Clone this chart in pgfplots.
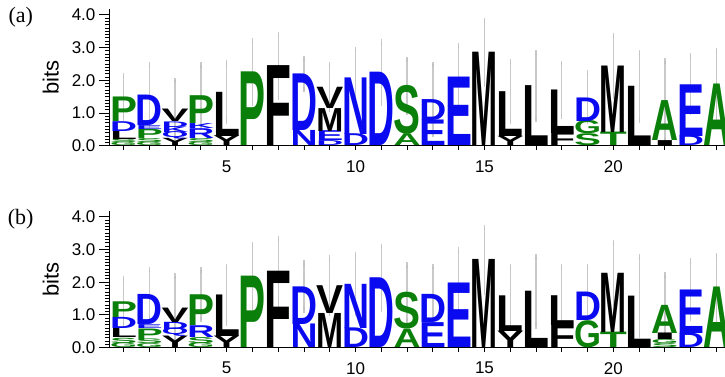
\documentclass[border=0pt]{standalone}
\usepackage{pgfplots}
\pgfplotsset{compat=1.18}
\usepackage{pgfplotstable}
\usepackage{graphicx}
\usepackage{fontspec}
\setmainfont{Liberation Sans}
\newfontfamily\serif{Liberation Serif}
\definecolor{lgreen}{RGB}{10,128,10}
\definecolor{lblue}{RGB}{10,10,240}
\definecolor{lblack}{RGB}{0,0,0}
\newcommand{\bitunit}{32.75}
\newcommand{\logoletter}[3]{\pgfmathsetmacro\hh{#1*\bitunit}\pgfmathtruncatemacro\cc{#3}%
  \ifcase\cc\color{lblack}\or\color{lblue}\or\color{lgreen}\fi
  \resizebox{27pt}{\hh pt}{\bfseries #2}}

% panel (a): x, base, height, letter, colour (0 black, 1 blue, 2 green)
\pgfplotstableread{
x y h L C
1 0 0.10 G 2
1 0.10 0.10 S 2
1 0.20 0.25 L 0
1 0.45 0.30 D 1
1 0.75 0.75 P 2
2 0 0.10 G 2
2 0.10 0.12 S 2
2 0.22 0.28 P 2
2 0.50 0.12 E 1
2 0.62 0.93 D 1
3 0 0.22 Y 0
3 0.22 0.18 Q 1
3 0.40 0.17 K 1
3 0.57 0.17 D 1
3 0.74 0.38 V 0
4 0 0.10 G 2
4 0.10 0.12 S 2
4 0.22 0.30 R 1
4 0.52 0.15 K 1
4 0.67 0.85 P 2
5 0 0.30 Y 0
5 0.30 1.35 L 0
6 0 2.25 P 2
7 0 2.44 F 0
8 0 0.46 N 1
8 0.46 1.73 D 1
9 0 0.15 D 1
9 0.15 0.30 E 1
9 0.45 0.70 M 0
9 1.15 0.65 V 0
10 0 0.36 D 1
10 0.36 1.73 N 1
11 0 2.24 D 1
12 0 0.36 A 2
12 0.36 1.47 S 2
13 0 0.78 E 1
13 0.78 0.64 D 1
14 0 2.09 E 1
15 0 2.85 M 0
16 0 0.28 Y 0
16 0.28 1.37 L 0
17 0 1.83 L 0
18 0 0.38 F 0
18 0.38 1.33 L 0
19 0 0.36 S 2
19 0.36 0.40 G 2
19 0.76 0.72 D 1
20 0 0.41 T 2
20 0.41 2.03 M 0
21 0 1.81 L 0
22 0 0.15 I 0
22 0.15 1.22 A 2
23 0 0.30 D 1
23 0.30 1.58 E 1
24 0 1.88 A 2
}\logoa

% panel (a): x, stack top, error bar top
\pgfplotstableread{
x top etop
1 1.50 2.15
2 1.55 2.47
3 1.12 2.00
4 1.52 2.47
5 1.65 2.54
6 2.25 3.20
7 2.44 3.40
8 2.19 2.66
9 1.80 2.49
10 2.09 2.95
11 2.24 3.17
12 1.83 2.64
13 1.42 2.49
14 2.09 3.07
15 2.85 3.81
16 1.65 2.56
17 1.83 2.85
18 1.71 2.52
19 1.48 2.22
20 2.44 3.37
21 1.81 2.85
22 1.37 2.59
23 1.88 2.74
24 1.88 2.90
}\erra

% panel (b)
\pgfplotstableread{
x y h L C
1 0 0.14 G 2
1 0.14 0.16 S 2
1 0.30 0.28 L 0
1 0.58 0.34 D 1
1 0.92 0.48 P 2
2 0 0.12 G 2
2 0.12 0.14 S 2
2 0.26 0.32 P 2
2 0.58 0.12 E 1
2 0.70 0.92 D 1
3 0 0.35 Y 0
3 0.35 0.20 Q 1
3 0.55 0.22 D 1
3 0.77 0.44 V 0
4 0 0.14 G 2
4 0.14 0.18 S 2
4 0.32 0.36 R 1
4 0.68 0.94 P 2
5 0 0.35 Y 0
5 0.35 1.27 L 0
6 0 2.18 P 2
7 0 2.33 F 0
8 0 0.72 N 1
8 0.72 1.15 D 1
9 0 1.04 M 0
9 1.04 0.85 V 0
10 0 0.60 D 1
10 0.60 1.35 N 1
11 0 2.13 D 1
12 0 0.56 A 2
12 0.56 1.11 S 2
13 0 0.76 E 1
13 0.76 0.86 D 1
14 0 1.97 E 1
15 0 2.69 M 0
16 0 0.50 Y 0
16 0.50 1.09 L 0
17 0 1.72 L 0
18 0 0.68 F 0
18 0.68 0.91 L 0
19 0 0.82 G 2
19 0.82 0.87 D 1
20 0 0.47 T 2
20 0.47 1.81 M 0
21 0 1.57 L 0
22 0 0.12 S 2
22 0.12 0.12 G 2
22 0.24 0.20 I 0
22 0.44 0.86 A 2
23 0 0.44 D 1
23 0.44 1.33 E 1
24 0 1.85 A 2
}\logob

\pgfplotstableread{
x top etop
1 1.40 2.10
2 1.62 2.38
3 1.21 2.20
4 1.62 2.38
5 1.62 2.48
6 2.18 3.15
7 2.33 3.32
8 1.87 2.59
9 1.89 2.74
10 1.95 2.84
11 2.13 3.09
12 1.67 2.53
13 1.62 2.48
14 1.97 2.99
15 2.69 3.67
16 1.59 2.46
17 1.72 2.77
18 1.59 2.46
19 1.69 2.46
20 2.28 3.20
21 1.57 2.77
22 1.30 2.23
23 1.77 2.65
24 1.85 2.82
}\errb

\pgfplotsset{
  logo/.style={
    scale only axis, width=615.6pt, height=136.6pt,
    xmin=0.47, xmax=24.33, ymin=0, ymax=4.17,
    axis x line=bottom, axis y line=left,
    axis line style={-, line width=1.1pt},
    xtick={5,10,15,20}, xticklabels={5,10,15,20}, minor xtick={1,...,24},
    ytick={0,1,2,3,4}, yticklabels={0.0,1.0,2.0,3.0,4.0},
    minor y tick num=9,
    tick align=outside, major tick length=11pt, minor tick length=5pt,
    tick style={black, line width=1pt},
    xtick style={/pgfplots/major tick length=4pt, /pgfplots/minor tick length=4pt},
    tick label style={font=\fontsize{17}{17}\selectfont},
    ylabel={bits},
    every axis y label/.style={at={(axis description cs:-0.096,0.5)}, rotate=90, anchor=center, font=\fontsize{22}{22}\selectfont},
    clip=false,
  },
  letters/.style={draw=none, mark=none,
    point meta=explicit symbolic,
    visualization depends on={\thisrow{h}\as\lH},
    visualization depends on={\thisrow{C}\as\lC},
    nodes near coords={\logoletter{\lH}{\pgfplotspointmeta}{\lC}},
    every node near coord/.append style={anchor=south, inner sep=0pt, outer sep=0pt}},
  errs/.style={draw=none, mark=none,
    error bars/.cd, y dir=both, y explicit,
    error bar style={black!25, line width=1.3pt, opacity=0.85},
    error mark options={black!25, mark size=2.8pt, line width=1.3pt}},
}

\begin{document}
\begin{tikzpicture}
\begin{axis}[logo, name=top, at={(0pt,0pt)}, anchor=south west]
\addplot[letters] table[x=x, y=y, meta=L] {\logoa};
\addplot[errs] table[x=x, y=top, y error expr=\thisrow{etop}-\thisrow{top}] {\erra};
\node[font=\serif\fontsize{22}{22}\selectfont] at (axis description cs:-0.145,0.94) {(a)};
\end{axis}
\begin{axis}[logo, name=bot, at={(0pt,-202pt)}, anchor=south west]
\addplot[letters] table[x=x, y=y, meta=L] {\logob};
\addplot[errs] table[x=x, y=top, y error expr=\thisrow{etop}-\thisrow{top}] {\errb};
\node[font=\serif\fontsize{22}{22}\selectfont] at (axis description cs:-0.145,0.94) {(b)};
\end{axis}
\pgfresetboundingbox
\path (-110pt,146pt) rectangle (615.6pt,-231pt);
\end{tikzpicture}
\end{document}
